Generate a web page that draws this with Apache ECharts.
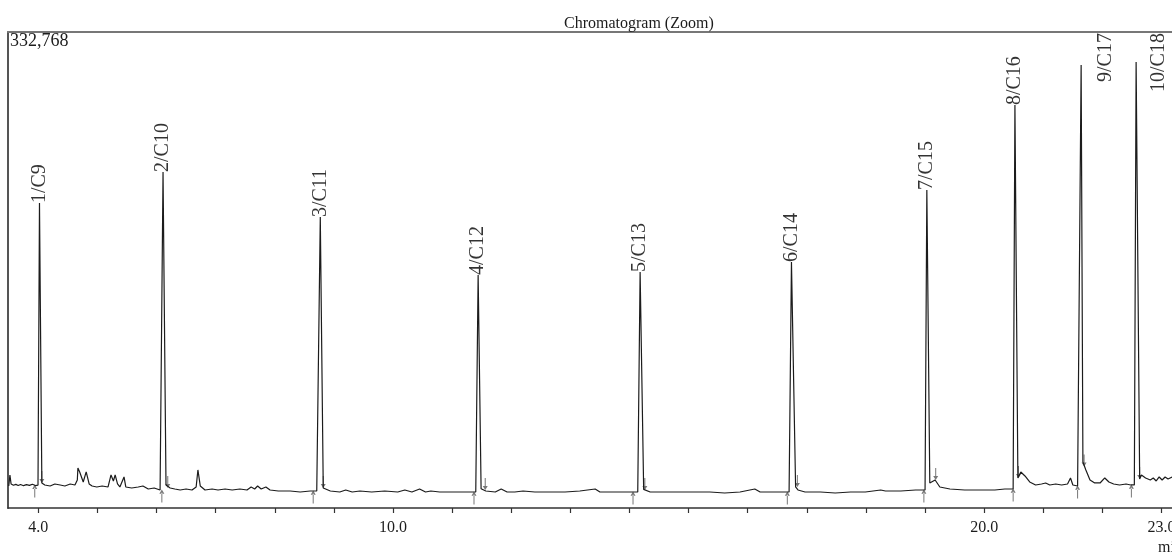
<!DOCTYPE html>
<html>
<head>
<meta charset="utf-8">
<title>Chromatogram (Zoom)</title>
<script src="https://cdn.jsdelivr.net/npm/echarts@6/dist/echarts.min.js"></script>
<style>
  html, body { margin: 0; padding: 0; background: #fff; }
  #chart { width: 1172px; height: 558px; }
</style>
</head>
<body>
<div id="chart"></div>
<script>
// retention time (min) / detector signal
const traceTime = [
  3.50, 3.52, 3.54, 3.58, 3.62, 3.66, 3.70, 3.75, 3.80, 3.85, 3.90, 3.95, 3.995,
  4.02, 4.06, 4.11, 4.20, 4.28, 4.37, 4.45, 4.54, 4.62, 4.66, 4.67, 4.70, 4.76, 4.81, 4.86, 4.91, 4.99,
  5.08, 5.18, 5.23, 5.27, 5.30, 5.34, 5.38, 5.45, 5.48, 5.58, 5.69, 5.77, 5.86, 5.96, 6.06, 6.09,
  6.11, 6.16, 6.23, 6.31, 6.40, 6.50, 6.60, 6.67, 6.70, 6.74, 6.82, 6.94, 7.04, 7.16, 7.28, 7.41,
  7.53, 7.60, 7.66, 7.71, 7.77, 7.85, 7.92, 8.06, 8.26, 8.43, 8.60, 8.71, 8.74,
  8.77, 8.82, 8.94, 9.10, 9.20, 9.31, 9.44, 9.64, 9.86, 10.08, 10.20, 10.32, 10.45, 10.55, 10.64,
  10.79, 11.05, 11.30, 11.40,
  11.44, 11.49, 11.57, 11.73, 11.83, 11.93, 12.06, 12.20, 12.40, 12.66, 12.91, 13.16, 13.42, 13.50,
  13.76, 14.01, 14.14,
  14.18, 14.24, 14.35, 14.60, 14.86, 15.11, 15.36, 15.61, 15.87, 16.12, 16.21, 16.46, 16.70,
  16.74, 16.81, 16.85, 16.97, 17.23, 17.48, 17.74, 17.99, 18.25, 18.33, 18.59, 18.84, 19.00,
  19.03, 19.08, 19.17, 19.25, 19.42, 19.67, 19.93, 20.18, 20.35, 20.49,
  20.52, 20.57, 20.62, 20.69, 20.77, 20.87, 20.97, 21.04, 21.11, 21.21, 21.31, 21.41, 21.46, 21.50,
  21.58, 21.61,
  21.64, 21.67, 21.72, 21.79, 21.87, 21.96, 22.04, 22.11, 22.19, 22.29, 22.40, 22.48, 22.54,
  22.57, 22.63, 22.66, 22.73, 22.81, 22.86, 22.91, 22.96, 23.01, 23.06, 23.11, 23.18
];
const traceSignal = [
  15400, 23000, 16800, 15900, 16500, 15700, 16400, 15600, 16300, 15800, 16600, 15700, 16000,
  213200, 17500, 16100, 15400, 16800, 16100, 15400, 16800, 16100, 19600, 28000, 25200, 18200, 25200, 16800, 15400, 14700,
  15400, 14700, 23100, 18900, 23100, 16800, 14700, 21700, 14700, 14000, 14700, 15400, 13300, 14000, 12600, 12600,
  234900, 16000, 14000, 13300, 12600, 13300, 12600, 14700, 26600, 15400, 12600, 13300, 12600, 13300, 12600, 13300,
  12600, 14700, 13300, 15400, 13300, 14700, 12600, 11900, 11900, 11200, 11900, 11900, 11900,
  203400, 14000, 11900, 11200, 12600, 11200, 11900, 11200, 11900, 11200, 12600, 11200, 13300, 11200, 11900,
  11200, 11200, 11200, 11200,
  162900, 13500, 11900, 11200, 13300, 11200, 11200, 11900, 11200, 11200, 11200, 11900, 13300, 11200,
  11200, 11200, 11200,
  165000, 13000, 11200, 11200, 11200, 11200, 11200, 10500, 11200, 13300, 11200, 11200, 11200,
  172000, 14700, 12600, 11200, 11200, 10500, 11200, 11200, 12600, 11900, 11900, 12600, 12600,
  222300, 17500, 19600, 14700, 13300, 12600, 12600, 12600, 13300, 13300,
  281700, 21000, 25200, 22400, 18200, 16100, 16800, 17500, 16100, 16800, 16100, 16800, 21000, 16100,
  15400, 15400,
  309700, 32200, 26600, 19600, 17500, 17500, 21000, 18200, 16800, 16100, 16800, 16100, 16100,
  311800, 20300, 23100, 21000, 19600, 21000, 18900, 21700, 19600, 21700, 20300, 21700
];

// peak apexes and names
const peakNames = ['1/C9', '2/C10', '3/C11', '4/C12', '5/C13', '6/C14', '7/C15', '8/C16', '9/C17', '10/C18'];
const peakTime = [4.02, 6.11, 8.77, 11.44, 14.18, 16.74, 19.03, 20.52, 21.64, 22.57];
const peakSignal = [213200, 234900, 203400, 162900, 165000, 172000, 222300, 281700, 309700, 311800];

// integration marks (start / end of each peak)
const startTime = [3.94, 6.09, 8.65, 11.37, 14.06, 16.67, 18.98, 20.49, 21.58, 22.49];
const startSignal = [16000, 12600, 11900, 11200, 11200, 11200, 12600, 13300, 15400, 16100];
const endTime = [4.06, 6.19, 8.82, 11.56, 14.26, 16.84, 19.18, 20.58, 21.69, 22.63];
const endSignal = [17500, 14000, 14000, 12600, 12600, 14700, 19600, 21000, 29000, 20300];

// axis ticks
const tickValues = [4, 5, 6, 7, 8, 9, 10, 11, 12, 13, 14, 15, 16, 17, 18, 19, 20, 21, 22, 23];
const tickLabels = [4, 10, 20, 23];
const yTop = 332768;

const serif = '"Liberation Serif", "DejaVu Serif", serif';
const ink = '#1c1c1c';

const chart = echarts.init(document.getElementById('chart'));

const traceData = traceTime.map((t, i) => [t, traceSignal[i]]);
const peakData = peakTime.map((t, i) => {
  let item = { name: peakNames[i], value: [t, peakSignal[i]] };
  // the last two are too tall, their labels sit beside the peak
  if (i === 8) item.label = { offset: [-17, 25] };
  if (i === 9) item.label = { offset: [-30, 23] };
  return item;
});

const upArrow = 'path://M-0.5,3 L0.5,3 L0.5,12 L-0.5,12 Z M0,0 L-2.5,4 L2.5,4 Z';
const downArrow = 'path://M-0.5,0 L0.5,0 L0.5,9 L-0.5,9 Z M0,12 L-2.5,8 L2.5,8 Z';

const option = {
  animation: false,
  backgroundColor: '#fff',
  title: {
    text: 'Chromatogram (Zoom)',
    left: 559,
    top: 11,
    textStyle: { fontFamily: serif, fontSize: 16, fontWeight: 'normal', color: ink }
  },
  grid: { left: 8, right: 0, top: 32, bottom: 50, outerBoundsMode: 'none' },
  xAxis: [
    {
      type: 'value',
      min: 3.4875,
      max: 23.177,
      name: 'min',
      nameLocation: 'end',
      nameGap: -14,
      nameTextStyle: { fontFamily: serif, fontSize: 16, color: ink, align: 'left', verticalAlign: 'top', padding: [32, 0, 0, 0] },
      axisLine: { lineStyle: { color: '#333', width: 1.5 } },
      axisTick: { customValues: tickValues, length: 5, lineStyle: { color: '#333', width: 1.2 } },
      axisLabel: {
        customValues: tickLabels,
        formatter: v => v.toFixed(1),
        fontFamily: serif, fontSize: 16, color: ink, margin: 12
      },
      splitLine: { show: false }
    },
    {
      type: 'value',
      position: 'top',
      min: 3.4875,
      max: 23.177,
      axisLine: { lineStyle: { color: '#777', width: 2 } },
      axisTick: { show: false },
      axisLabel: { show: false },
      splitLine: { show: false }
    }
  ],
  yAxis: {
    type: 'value',
    min: 0,
    max: yTop,
    axisLine: { show: true, lineStyle: { color: '#555', width: 2 } },
    axisTick: { show: false },
    axisLabel: {
      inside: true,
      customValues: [yTop],
      formatter: v => v.toLocaleString('en-US'),
      verticalAlign: 'top',
      margin: 2,
      fontFamily: serif, fontSize: 18, color: ink
    },
    splitLine: { show: false }
  },
  series: [
    {
      name: 'signal',
      type: 'line',
      data: traceData,
      showSymbol: false,
      lineStyle: { color: ink, width: 1.2 },
      z: 3
    },
    {
      name: 'peaks',
      type: 'scatter',
      data: peakData,
      symbolSize: 0,
      label: {
        show: true,
        position: 'top',
        distance: 0,
        formatter: p => p.name,
        rotate: 90,
        align: 'left',
        verticalAlign: 'middle',
        fontFamily: serif,
        fontSize: 20,
        color: '#000',
        textBorderWidth: 0
      },
      z: 4
    },
    {
      name: 'start',
      type: 'scatter',
      data: startTime.map((t, i) => [t, startSignal[i]]),
      symbol: upArrow,
      symbolSize: [5, 13],
      symbolOffset: [0, 6],
      itemStyle: { color: '#555' },
      z: 2
    },
    {
      name: 'end',
      type: 'scatter',
      data: endTime.map((t, i) => [t, endSignal[i]]),
      symbol: downArrow,
      symbolSize: [5, 12],
      symbolOffset: [0, -6],
      itemStyle: { color: '#555' },
      z: 2
    }
  ]
};

chart.setOption(option);
</script>
</body>
</html>
